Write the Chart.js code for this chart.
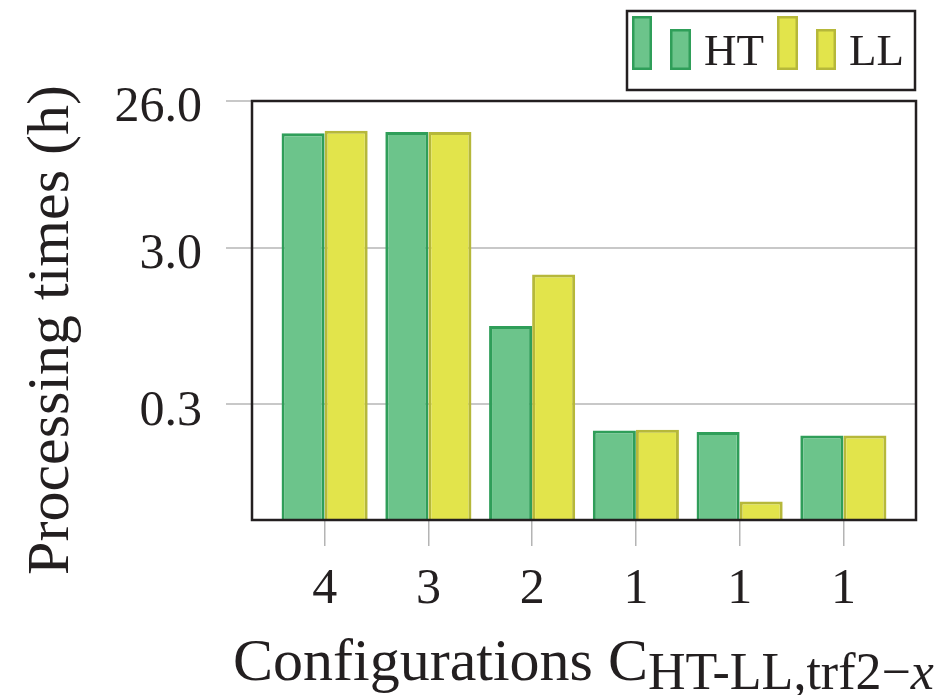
<!DOCTYPE html>
<html>
<head>
<meta charset="utf-8">
<script src="https://cdn.jsdelivr.net/npm/chart.js@4.4.1/dist/chart.umd.min.js"></script>
<style>
  html, body { margin: 0; padding: 0; background: #ffffff; }
  #wrap { width: 938px; height: 695px; position: relative; }
</style>
</head>
<body>
<div id="wrap"><canvas id="c" width="938" height="695"></canvas></div>
<script>
// ---- data ----
const configLabels = ['4', '3', '2', '1', '1', '1'];
const seriesNames = ['HT', 'LL'];
const htTimes = [16.2, 16.5, 0.95, 0.205, 0.20, 0.19];
const llTimes = [16.8, 16.5, 2.03, 0.207, 0.072, 0.19];
const yTickValues = [0.3, 3.0, 26.0];
const yMin = 0.0549;
const yMax = 26.0;

const FONT = '"Liberation Serif", "DejaVu Serif", serif';
const TEXT = '#231f20';
const GREEN_FILL = '#6cc48b';
const GREEN_EDGE = '#2f9e59';
const YELLOW_FILL = '#e2e44b';
const YELLOW_EDGE = '#b6b83a';

const toPoints = arr => arr.map((v, i) => ({ x: i, y: v }));

const frame = {
  id: 'frame',
  afterDatasetsDraw(chart) {
    const a = chart.chartArea, ctx = chart.ctx;
    ctx.save();
    ctx.strokeStyle = '#231f20';
    ctx.lineWidth = 2.5;
    ctx.strokeRect(a.left, a.top, a.right - a.left, a.bottom - a.top);
    ctx.restore();
  }
};

const decorations = {
  id: 'decorations',
  afterDraw(chart) {
    const ctx = chart.ctx;
    const ds = chart.data.datasets;
    ctx.save();
    // legend box
    ctx.strokeStyle = '#231f20';
    ctx.lineWidth = 2.5;
    ctx.strokeRect(627, 11, 288, 79);
    const sw = (x1, y1, x2, y2, d) => {
      ctx.fillStyle = d.backgroundColor;
      ctx.fillRect(x1, y1, x2 - x1, y2 - y1);
      ctx.strokeStyle = d.borderColor;
      ctx.lineWidth = 2.5;
      ctx.strokeRect(x1 + 1.25, y1 + 1.25, x2 - x1 - 2.5, y2 - y1 - 2.5);
    };
    sw(632, 16, 652, 70, ds[0]);
    sw(670, 29, 691, 70, ds[0]);
    sw(777, 16, 798, 70, ds[1]);
    sw(816, 29, 836, 70, ds[1]);
    ctx.fillStyle = TEXT;
    ctx.font = '45px ' + FONT;
    ctx.textBaseline = 'alphabetic';
    ctx.textAlign = 'left';
    ctx.fillText(ds[0].label, 704, 65);
    ctx.fillText(ds[1].label, 849, 65);

    // y axis title
    ctx.save();
    ctx.translate(68, 330);
    ctx.rotate(-Math.PI / 2);
    ctx.textAlign = 'center';
    ctx.font = '60px ' + FONT;
    ctx.fillText('Processing times (h)', 0, 0);
    ctx.restore();

    // x axis title with subscript
    ctx.textAlign = 'left';
    ctx.font = '60px ' + FONT;
    let x = 233;
    const main = 'Configurations C';
    ctx.fillText(main, x, 680);
    x += ctx.measureText(main).width;
    ctx.font = '52px ' + FONT;
    const sub = 'HT-LL,trf2\u2212';
    ctx.fillText(sub, x, 689);
    x += ctx.measureText(sub).width;
    ctx.font = 'italic 52px ' + FONT;
    ctx.fillText('x', x, 689);
    ctx.restore();
  }
};

new Chart(document.getElementById('c'), {
  type: 'bar',
  data: {
    datasets: [
      { label: seriesNames[0], data: toPoints(htTimes), backgroundColor: GREEN_FILL, borderColor: GREEN_EDGE, borderWidth: 3 },
      { label: seriesNames[1], data: toPoints(llTimes), backgroundColor: YELLOW_FILL, borderColor: YELLOW_EDGE, borderWidth: 3 }
    ]
  },
  options: {
    responsive: false,
    animation: false,
    events: [],
    barPercentage: 1.0,
    categoryPercentage: 0.83,
    layout: { padding: { left: 0, right: 22, top: 101, bottom: 0 } },
    plugins: { legend: { display: false }, tooltip: { enabled: false }, title: { display: false } },
    scales: {
      x: {
        type: 'linear',
        min: -0.7,
        max: 5.7,
        offset: false,
        afterBuildTicks: s => { s.ticks = configLabels.map((_, i) => ({ value: i })); },
        afterFit: s => { s.height = 175; },
        grid: { offset: false, drawOnChartArea: false, drawTicks: true, tickLength: 26, color: '#b4b4b4', lineWidth: 1.5 },
        border: { display: false },
        ticks: {
          callback: v => configLabels[v],
          autoSkip: false,
          maxRotation: 0,
          padding: 14,
          color: TEXT,
          font: { family: FONT, size: 50 }
        }
      },
      y: {
        type: 'logarithmic',
        min: yMin,
        max: yMax,
        afterBuildTicks: s => { s.ticks = yTickValues.map(v => ({ value: v })); },
        afterFit: s => { s.width = 252; },
        grid: { drawOnChartArea: true, drawTicks: true, tickLength: 26, color: '#c8c8c8', lineWidth: 2 },
        border: { display: false },
        ticks: {
          callback: v => Number(v).toFixed(1),
          padding: 24,
          labelOffset: 7,
          color: TEXT,
          font: { family: FONT, size: 50 }
        }
      }
    }
  },
  plugins: [frame, decorations]
});
</script>
</body>
</html>
